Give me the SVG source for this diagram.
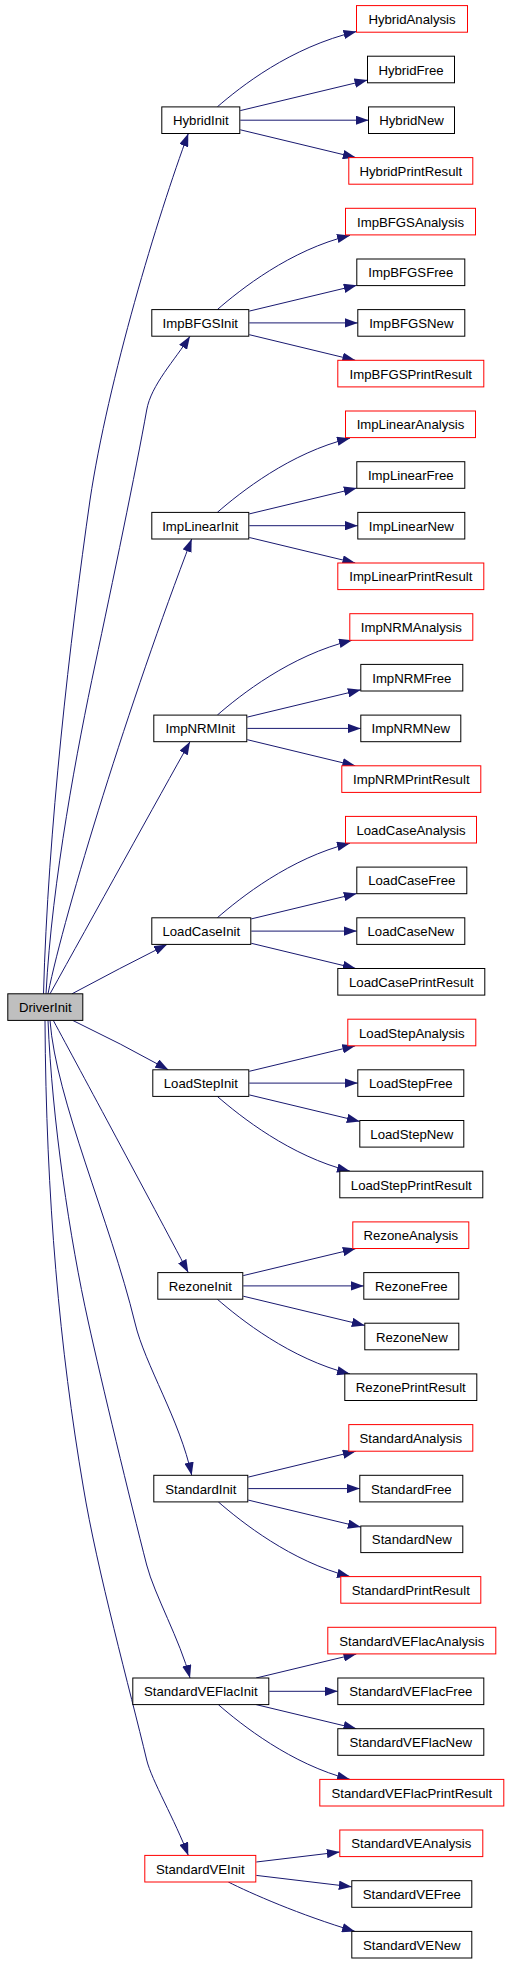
<svg xmlns="http://www.w3.org/2000/svg" width="509" height="1963" viewBox="0 0 509 1963">
<style>
.n rect{fill:#fff;stroke:#000;stroke-width:1}
.r rect{fill:#fff;stroke:#f00;stroke-width:1}
.d rect{fill:#bfbfbf;stroke:#000;stroke-width:1}
text{font-family:"Liberation Sans",Arial,Helvetica,sans-serif;font-size:13.2px;fill:#000;text-anchor:middle}
.e path{fill:none;stroke:#191970;stroke-width:1;marker-end:url(#ah)}
</style>
<defs>
<marker id="ah" markerUnits="userSpaceOnUse" markerWidth="13" markerHeight="9.4" viewBox="0 0 13 9.4" refX="13" refY="4.7" orient="auto">
<path d="M0,0 L13,4.7 L0,9.4 z" fill="#191970"/>
</marker>
</defs>
<rect width="509" height="1963" fill="#fff"/>
<g id="edges" class="e">
<path d="M217.3,106.9 C240,87.2 290,47.2 356.5,31.5"/>
<path d="M240.3,110.6 L367.5,80.1"/>
<path d="M240.3,120.2 L368.5,120.2"/>
<path d="M240.3,129.8 L355.8,157.6"/>
<path d="M217.3,309.6 C240,289.9 290,249.9 350,235.4"/>
<path d="M249.3,311.1 L356.8,285.3"/>
<path d="M249.3,322.9 L357.8,322.9"/>
<path d="M249.3,334.7 L355.3,360.3"/>
<path d="M217.3,512.4 C240,492.7 290,452.7 350,438.2"/>
<path d="M249.3,513.9 L356.8,488.1"/>
<path d="M249.3,525.7 L357.8,525.7"/>
<path d="M249.3,537.5 L355.3,563.0"/>
<path d="M217.3,715.1 C240,695.4 290,655.4 352,640.3"/>
<path d="M247.3,717.1 L360.8,689.8"/>
<path d="M247.3,728.4 L360.8,728.4"/>
<path d="M247.3,739.7 L355.3,765.8"/>
<path d="M217.3,917.8 C240,898.1 290,858.1 350,843.2"/>
<path d="M251.3,918.9 L356.8,893.5"/>
<path d="M251.3,931.1 L356.8,931.1"/>
<path d="M251.3,943.3 L355.8,968.5"/>
<path d="M249.3,1071.3 L355.3,1045.8"/>
<path d="M249.3,1083.1 L357.8,1083.1"/>
<path d="M249.3,1094.9 L359.8,1121.4"/>
<path d="M217.3,1096.4 C240,1116.1 290,1156.1 350,1171.2"/>
<path d="M243.3,1275.6 L355.8,1248.6"/>
<path d="M243.3,1285.9 L363.8,1285.9"/>
<path d="M243.3,1296.2 L364.8,1325.4"/>
<path d="M217.3,1299.2 C240,1318.9 290,1358.9 350,1373.9"/>
<path d="M248.3,1477.1 L355.8,1451.2"/>
<path d="M248.3,1488.6 L359.8,1488.6"/>
<path d="M248.3,1500.1 L360.8,1527.1"/>
<path d="M218.3,1501.9 C241,1521.6 291,1561.6 350,1576.6"/>
<path d="M256.1,1678.0 L356.4,1653.9"/>
<path d="M269.3,1691.3 L337.8,1691.3"/>
<path d="M256.1,1704.6 L356.4,1728.7"/>
<path d="M218.3,1704.6 C241,1724.3 291,1764.3 350,1779.4"/>
<path d="M256.3,1862.0 L339.8,1852.0"/>
<path d="M256.3,1875.4 L351.8,1886.8"/>
<path d="M228.3,1882.0 C250,1893 300,1915 355,1931.4"/>
<path d="M43.5,993.8 C48,830 70,640 90,500 C108,380 158,215 188.3,133.5"/>
<path d="M46,993.8 C52,880 78,745 95,665 C112,585 136,470 146.7,410 C151,385 175,360 190,336.2"/>
<path d="M48,993.8 C65,910 130,700 191.7,539"/>
<path d="M50,993.8 C90,922 160,795 190,741.7"/>
<path d="M72,993.8 Q120,968 167,944.4"/>
<path d="M72.7,1020.4 Q120,1043 168.3,1069.8"/>
<path d="M53.3,1020.4 C80,1070 150,1200 188.3,1272.6"/>
<path d="M50,1020.4 C56,1100 110,1220 135,1323 C145,1365 180,1420 191.7,1475.3"/>
<path d="M48,1020.4 C52,1120 70,1240 88.3,1322 C101.5,1382 130,1500 146.7,1565 C154.5,1595 180,1640 190,1678"/>
<path d="M45,1020.4 C46,1200 60,1350 83.3,1487 C97,1570 130,1690 146.7,1760 C151.5,1780 175,1820 188.3,1855.4"/>
</g>
<g id="HybridInit" class="n"><rect x="161.8" y="106.9" width="78" height="26.6"/><text x="200.8" y="125.2">HybridInit</text></g>
<g id="ImpBFGSInit" class="n"><rect x="151.8" y="309.6" width="97" height="26.6"/><text x="200.3" y="327.9">ImpBFGSInit</text></g>
<g id="ImpLinearInit" class="n"><rect x="151.8" y="512.4" width="97" height="26.6"/><text x="200.3" y="530.7">ImpLinearInit</text></g>
<g id="ImpNRMInit" class="n"><rect x="153.8" y="715.1" width="93" height="26.6"/><text x="200.3" y="733.4">ImpNRMInit</text></g>
<g id="LoadCaseInit" class="n"><rect x="151.8" y="917.8" width="99" height="26.6"/><text x="201.3" y="936.1">LoadCaseInit</text></g>
<g id="DriverInit" class="d"><rect x="7.8" y="993.8" width="75" height="26.6"/><text x="45.3" y="1012.1">DriverInit</text></g>
<g id="LoadStepInit" class="n"><rect x="152.8" y="1069.8" width="96" height="26.6"/><text x="200.8" y="1088.1">LoadStepInit</text></g>
<g id="RezoneInit" class="n"><rect x="157.8" y="1272.6" width="85" height="26.6"/><text x="200.3" y="1290.9">RezoneInit</text></g>
<g id="StandardInit" class="n"><rect x="153.8" y="1475.3" width="94" height="26.6"/><text x="200.8" y="1493.6">StandardInit</text></g>
<g id="StandardVEFlacInit" class="n"><rect x="132.8" y="1678.0" width="136" height="26.6"/><text x="200.8" y="1696.3">StandardVEFlacInit</text></g>
<g id="StandardVEInit" class="r"><rect x="144.8" y="1855.4" width="111" height="26.6"/><text x="200.3" y="1873.7">StandardVEInit</text></g>
<g id="HybridAnalysis" class="r"><rect x="356.5" y="5.6" width="111" height="26.6"/><text x="412" y="23.9">HybridAnalysis</text></g>
<g id="HybridFree" class="n"><rect x="367.5" y="56.2" width="87" height="26.6"/><text x="411" y="74.5">HybridFree</text></g>
<g id="HybridNew" class="n"><rect x="368.5" y="106.9" width="86" height="26.6"/><text x="411.5" y="125.2">HybridNew</text></g>
<g id="HybridPrintResult" class="r"><rect x="348.8" y="157.6" width="124" height="26.6"/><text x="410.8" y="175.9">HybridPrintResult</text></g>
<g id="ImpBFGSAnalysis" class="r"><rect x="345.5" y="208.3" width="130" height="26.6"/><text x="410.5" y="226.6">ImpBFGSAnalysis</text></g>
<g id="ImpBFGSFree" class="n"><rect x="356.8" y="259.0" width="108" height="26.6"/><text x="410.8" y="277.3">ImpBFGSFree</text></g>
<g id="ImpBFGSNew" class="n"><rect x="357.8" y="309.6" width="107" height="26.6"/><text x="411.3" y="327.9">ImpBFGSNew</text></g>
<g id="ImpBFGSPrintResult" class="r"><rect x="337.8" y="360.3" width="146" height="26.6"/><text x="410.8" y="378.6">ImpBFGSPrintResult</text></g>
<g id="ImpLinearAnalysis" class="r"><rect x="345.5" y="411.0" width="130" height="26.6"/><text x="410.5" y="429.3">ImpLinearAnalysis</text></g>
<g id="ImpLinearFree" class="n"><rect x="356.8" y="461.7" width="108" height="26.6"/><text x="410.8" y="480.0">ImpLinearFree</text></g>
<g id="ImpLinearNew" class="n"><rect x="357.8" y="512.4" width="107" height="26.6"/><text x="411.3" y="530.7">ImpLinearNew</text></g>
<g id="ImpLinearPrintResult" class="r"><rect x="337.8" y="563.0" width="146" height="26.6"/><text x="410.8" y="581.3">ImpLinearPrintResult</text></g>
<g id="ImpNRMAnalysis" class="r"><rect x="349.8" y="613.7" width="123" height="26.6"/><text x="411.3" y="632.0">ImpNRMAnalysis</text></g>
<g id="ImpNRMFree" class="n"><rect x="360.8" y="664.4" width="102" height="26.6"/><text x="411.8" y="682.7">ImpNRMFree</text></g>
<g id="ImpNRMNew" class="n"><rect x="360.8" y="715.1" width="100" height="26.6"/><text x="410.8" y="733.4">ImpNRMNew</text></g>
<g id="ImpNRMPrintResult" class="r"><rect x="341.8" y="765.8" width="139" height="26.6"/><text x="411.3" y="784.1">ImpNRMPrintResult</text></g>
<g id="LoadCaseAnalysis" class="r"><rect x="345.5" y="816.4" width="131" height="26.6"/><text x="411" y="834.7">LoadCaseAnalysis</text></g>
<g id="LoadCaseFree" class="n"><rect x="356.8" y="867.1" width="110" height="26.6"/><text x="411.8" y="885.4">LoadCaseFree</text></g>
<g id="LoadCaseNew" class="n"><rect x="356.8" y="917.8" width="108" height="26.6"/><text x="410.8" y="936.1">LoadCaseNew</text></g>
<g id="LoadCasePrintResult" class="n"><rect x="337.8" y="968.5" width="147" height="26.6"/><text x="411.3" y="986.8">LoadCasePrintResult</text></g>
<g id="LoadStepAnalysis" class="r"><rect x="347.8" y="1019.2" width="128" height="26.6"/><text x="411.8" y="1037.5">LoadStepAnalysis</text></g>
<g id="LoadStepFree" class="n"><rect x="357.8" y="1069.8" width="106" height="26.6"/><text x="410.8" y="1088.1">LoadStepFree</text></g>
<g id="LoadStepNew" class="n"><rect x="359.8" y="1120.5" width="104" height="26.6"/><text x="411.8" y="1138.8">LoadStepNew</text></g>
<g id="LoadStepPrintResult" class="n"><rect x="339.8" y="1171.2" width="143" height="26.6"/><text x="411.3" y="1189.5">LoadStepPrintResult</text></g>
<g id="RezoneAnalysis" class="r"><rect x="352.8" y="1221.9" width="116" height="26.6"/><text x="410.8" y="1240.2">RezoneAnalysis</text></g>
<g id="RezoneFree" class="n"><rect x="363.8" y="1272.6" width="95" height="26.6"/><text x="411.3" y="1290.9">RezoneFree</text></g>
<g id="RezoneNew" class="n"><rect x="364.8" y="1323.2" width="94" height="26.6"/><text x="411.8" y="1341.5">RezoneNew</text></g>
<g id="RezonePrintResult" class="n"><rect x="344.8" y="1373.9" width="132" height="26.6"/><text x="410.8" y="1392.2">RezonePrintResult</text></g>
<g id="StandardAnalysis" class="r"><rect x="348.8" y="1424.6" width="124" height="26.6"/><text x="410.8" y="1442.9">StandardAnalysis</text></g>
<g id="StandardFree" class="n"><rect x="359.8" y="1475.3" width="103" height="26.6"/><text x="411.3" y="1493.6">StandardFree</text></g>
<g id="StandardNew" class="n"><rect x="360.8" y="1526.0" width="102" height="26.6"/><text x="411.8" y="1544.3">StandardNew</text></g>
<g id="StandardPrintResult" class="r"><rect x="340.8" y="1576.6" width="140" height="26.6"/><text x="410.8" y="1594.9">StandardPrintResult</text></g>
<g id="StandardVEFlacAnalysis" class="r"><rect x="327.8" y="1627.3" width="168" height="26.6"/><text x="411.8" y="1645.6">StandardVEFlacAnalysis</text></g>
<g id="StandardVEFlacFree" class="n"><rect x="337.8" y="1678.0" width="146" height="26.6"/><text x="410.8" y="1696.3">StandardVEFlacFree</text></g>
<g id="StandardVEFlacNew" class="n"><rect x="337.8" y="1728.7" width="146" height="26.6"/><text x="410.8" y="1747.0">StandardVEFlacNew</text></g>
<g id="StandardVEFlacPrintResult" class="r"><rect x="319.8" y="1779.4" width="184" height="26.6"/><text x="411.8" y="1797.7">StandardVEFlacPrintResult</text></g>
<g id="StandardVEAnalysis" class="r"><rect x="339.8" y="1830.0" width="143" height="26.6"/><text x="411.3" y="1848.3">StandardVEAnalysis</text></g>
<g id="StandardVEFree" class="n"><rect x="351.8" y="1880.7" width="120" height="26.6"/><text x="411.8" y="1899.0">StandardVEFree</text></g>
<g id="StandardVENew" class="n"><rect x="351.8" y="1931.4" width="120" height="26.6"/><text x="411.8" y="1949.7">StandardVENew</text></g>
</svg>
